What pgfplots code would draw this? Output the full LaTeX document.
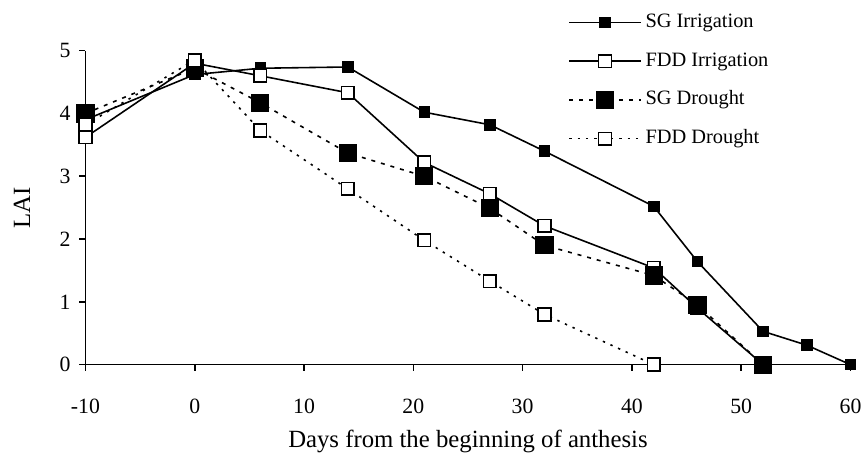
\documentclass[border=0pt]{standalone}
\usepackage{fontspec}
\setmainfont{Liberation Serif}
\usepackage{pgfplots}
\pgfplotsset{compat=1.18}
\begin{document}
\begin{tikzpicture}[x=1bp,y=1bp]
\begin{axis}[
  at={(0,0)}, anchor=south west,
  scale only axis, width=385bp, height=158bp,
  xmin=-10, xmax=60, ymin=0, ymax=5,
  axis x line=bottom, axis y line=left,
  axis line style={-, line width=0.8bp},
  xtick={-10,0,...,60}, ytick={0,...,5},
  tick align=outside, major tick length=3bp,
  tick style={line width=0.8bp, black},
  /pgf/number format/assume math mode=true,
  ticklabel style={font=\fontsize{11}{13}\selectfont},
  xticklabel style={yshift=-11bp},
  yticklabel style={xshift=-1bp},
  xlabel={Days from the beginning of anthesis},
  ylabel={LAI},
  xlabel shift=1bp, ylabel shift=8bp,
  label style={font=\fontsize{12.5}{15}\selectfont},
  legend style={at={(0.623,1.145)}, anchor=north west, draw=none, fill=none,
    font=\fontsize{10.3}{12}\selectfont, row sep=6.5bp,
    nodes={inner sep=2bp, text height=7bp, text depth=2bp}},
  legend cell align=left,
  legend image code/.code={\draw[mark repeat=2,mark phase=2,#1] plot coordinates {(0bp,0bp) (18bp,0bp) (36bp,0bp)};},
  clip=false,
]
\addplot[black, line width=0.8bp, mark=square*, mark size=2.5bp, mark options={solid, fill=black}]
coordinates {(-10,3.9) (0,4.62) (6,4.72) (14,4.74) (21,4.02) (27,3.82) (32,3.4) (42,2.52) (46,1.64) (52,0.53) (56,0.31) (60,0.0)};
\addlegendentry{SG Irrigation}
\addplot[black, line width=0.8bp, mark=square*, mark size=3.2bp, mark options={solid, fill=white}]
coordinates {(-10,3.62) (0,4.8) (6,4.6) (14,4.33) (21,3.22) (27,2.72) (32,2.21) (42,1.54) (46,0.9) (52,0.0)};
\addlegendentry{FDD Irrigation}
\addplot[black, line width=0.8bp, dash pattern=on 2bp off 3bp, mark=square*, mark size=4.2bp, mark options={solid, fill=black}]
coordinates {(-10,4.0) (0,4.72) (6,4.17) (14,3.37) (21,3.0) (27,2.49) (32,1.9) (42,1.42) (46,0.95) (52,0.0)};
\addlegendentry{SG Drought}
\addplot[black, line width=0.8bp, dash pattern=on 1.2bp off 3bp, mark=square*, mark size=3.2bp, mark options={solid, fill=white}]
coordinates {(-10,3.82) (0,4.85) (6,3.73) (14,2.8) (21,1.98) (27,1.33) (32,0.8) (42,0.0)};
\addlegendentry{FDD Drought}
\end{axis}
\path[use as bounding box] (-43bp,-45bp) rectangle (391bp,183.5bp);
\end{tikzpicture}
\end{document}
